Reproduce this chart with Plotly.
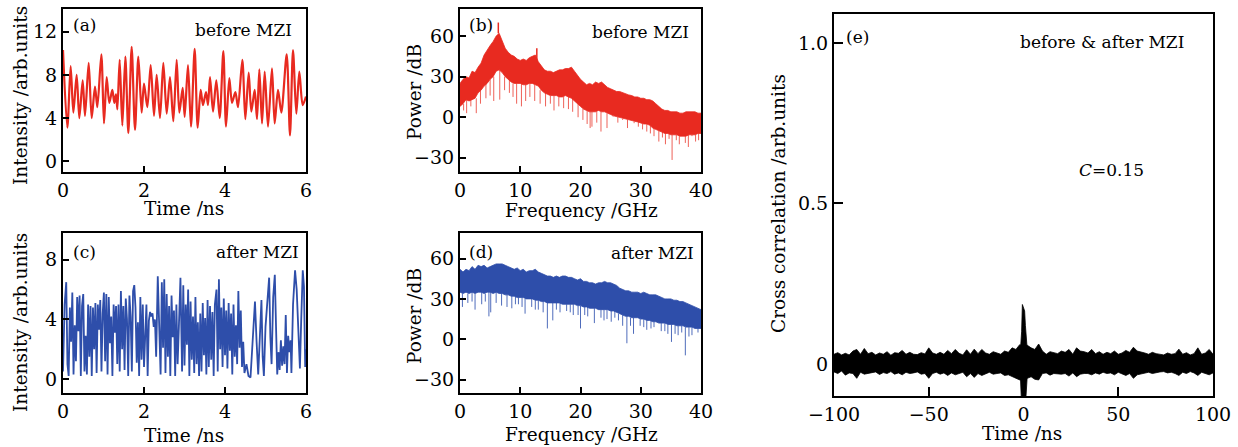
import plotly.graph_objects as go

FONT = "DejaVu Serif"
W, H = 1238, 447

# ---------------- (a) intensity before MZI ----------------
a_time = [0.0, 0.107, 0.189, 0.255, 0.337, 0.403, 0.486, 0.543, 0.634, 0.708, 0.790, 0.848,
          0.947, 1.012, 1.078, 1.144, 1.218, 1.267, 1.309, 1.342, 1.399, 1.465, 1.539, 1.613,
          1.695, 1.778, 1.860, 1.942, 2.000, 2.082, 2.165, 2.247, 2.313, 2.395, 2.477, 2.560,
          2.642, 2.724, 2.807, 2.872, 2.955, 3.004, 3.086, 3.160, 3.251, 3.325, 3.399, 3.457,
          3.531, 3.580, 3.630, 3.704, 3.786, 3.869, 3.959, 4.025, 4.107, 4.173, 4.256, 4.321,
          4.428, 4.502, 4.585, 4.650, 4.733, 4.790, 4.848, 4.914, 4.980, 5.062, 5.160, 5.226,
          5.309, 5.391, 5.523, 5.605, 5.679, 5.761, 5.835, 5.918, 6.0]
a_val = [10.3, 3.1, 8.8, 4.5, 8.0, 4.0, 7.5, 4.2, 9.1, 4.0, 6.9, 5.0,
         9.9, 3.5, 7.8, 5.4, 6.6, 5.4, 6.2, 4.8, 9.4, 3.3, 9.7, 2.6,
         10.6, 2.9, 9.7, 4.5, 7.2, 5.0, 8.9, 4.2, 8.0, 4.0, 9.1, 4.4,
         7.8, 3.7, 9.4, 4.5, 6.8, 4.1, 8.9, 3.2, 10.4, 3.1, 6.6, 5.2,
         6.4, 5.2, 7.8, 4.6, 7.5, 4.0, 10.2, 3.2, 7.7, 5.4, 6.4, 5.0,
         9.4, 3.9, 8.2, 4.6, 6.6, 3.9, 8.5, 3.5, 8.3, 3.2, 8.6, 3.5,
         6.6, 4.5, 9.9, 2.4, 10.3, 4.4, 8.3, 5.2, 6.0]

# ---------------- (c) intensity after MZI ----------------
c_time = [0.00, 0.04, 0.08, 0.11, 0.14, 0.17, 0.20, 0.23, 0.26, 0.29, 0.32, 0.35, 0.38, 0.41,
          0.44, 0.47, 0.50, 0.53, 0.56, 0.59, 0.62, 0.65, 0.68, 0.71, 0.74, 0.77, 0.80, 0.83,
          0.86, 0.89, 0.92, 0.95, 0.98, 1.01, 1.04, 1.07, 1.10, 1.13, 1.16, 1.19, 1.22, 1.25,
          1.28, 1.31, 1.34, 1.37, 1.40, 1.43, 1.46, 1.49, 1.52, 1.55, 1.58, 1.61, 1.64, 1.67,
          1.70, 1.73, 1.76, 1.79, 1.82, 1.85, 1.88, 1.91, 1.94, 1.97, 2.00, 2.03, 2.06, 2.09,
          2.12, 2.15, 2.18, 2.21, 2.24, 2.27, 2.30, 2.34, 2.38, 2.41, 2.44, 2.47, 2.50, 2.53,
          2.56, 2.59, 2.62, 2.65, 2.68, 2.71, 2.74, 2.77, 2.80, 2.83, 2.86, 2.90, 2.94, 2.97,
          3.00, 3.03, 3.06, 3.09, 3.12, 3.15, 3.18, 3.21, 3.24, 3.27, 3.30, 3.33, 3.36, 3.39,
          3.42, 3.45, 3.48, 3.51, 3.54, 3.57, 3.60, 3.63, 3.66, 3.69, 3.72, 3.75, 3.79, 3.82,
          3.85, 3.88, 3.91, 3.94, 3.97, 4.00, 4.03, 4.06, 4.09, 4.12, 4.15, 4.18, 4.21, 4.24,
          4.27, 4.30, 4.33, 4.36, 4.39, 4.42, 4.45, 4.48, 4.53, 4.58, 4.63, 4.67, 4.71, 4.74,
          4.78, 4.82, 4.86, 4.90, 4.93, 4.96, 5.00, 5.04, 5.09, 5.12, 5.15, 5.19, 5.23, 5.26,
          5.29, 5.32, 5.35, 5.38, 5.41, 5.44, 5.47, 5.50, 5.53, 5.56, 5.59, 5.62, 5.64, 5.68,
          5.73, 5.77, 5.81, 5.85, 5.88, 5.92, 5.95, 5.98, 6.00]
c_val = [0.5, 5.0, 6.5, 1.0, 0.2, 4.8, 2.5, 5.8, 0.3, 3.6, 1.2, 5.5, 3.2, 5.6,
         0.2, 4.9, 5.7, 0.5, 2.9, 0.3, 5.0, 1.5, 4.9, 0.2, 4.8, 2.0, 5.1, 0.4,
         5.0, 3.3, 5.3, 0.5, 4.4, 5.8, 1.2, 5.7, 0.3, 5.5, 2.4, 4.2, 0.2, 5.0,
         3.1, 4.9, 1.0, 5.0, 0.5, 5.9, 2.0, 4.9, 0.6, 5.4, 4.0, 0.2, 5.6, 4.2,
         0.5, 5.9, 6.3, 4.8, 1.1, 3.8, 0.2, 5.5, 1.3, 5.0, 0.8, 3.0, 5.0, 0.2,
         3.9, 4.5, 4.2, 4.4, 3.5, 4.0, 1.5, 6.9, 3.8, 0.3, 6.5, 2.1, 6.7, 0.4,
         5.7, 1.5, 4.9, 0.2, 5.6, 2.8, 4.6, 0.2, 5.0, 1.0, 3.4, 6.8, 0.5, 6.3,
         0.9, 5.0, 2.3, 6.0, 0.2, 5.2, 1.3, 4.2, 0.4, 5.5, 1.0, 3.8, 0.2, 4.4,
         0.5, 5.1, 1.6, 4.1, 0.3, 5.3, 0.8, 4.9, 1.3, 4.5, 0.2, 5.0, 6.0, 0.5,
         6.7, 2.0, 4.8, 0.8, 5.4, 1.6, 4.6, 0.7, 5.1, 1.9, 4.4, 0.3, 5.0, 1.5,
         3.6, 1.0, 5.9, 2.1, 4.6, 0.8, 2.5, 0.4, 1.0, 0.2, 0.1, 2.0, 4.0, 5.2,
         2.5, 0.3, 2.8, 5.3, 1.5, 0.2, 3.5, 4.9, 6.8, 2.8, 1.0, 5.5, 7.0, 3.5,
         0.3, 1.8, 0.6, 2.6, 0.9, 2.2, 1.0, 4.3, 0.4, 2.9, 1.8, 2.6, 0.4, 5.0,
         7.3, 6.0, 3.2, 0.7, 3.8, 7.3, 6.2, 0.8, 2.0]

# ---------------- (b) / (d) spectra (0.5 GHz grid) ----------------
freq = [i * 0.5 for i in range(81)]
b_upper = [25, 28, 30, 29, 34, 33, 37, 40, 46, 50, 53, 56, 60, 62, 56, 51, 48, 46, 45, 43,
           42, 43, 42, 44, 45, 46, 41, 38, 35, 34, 34, 33, 34, 35, 35, 36, 36, 37, 34, 31,
           28, 26, 24, 25, 24, 26, 25, 26, 24, 22, 21, 20, 19, 19, 18, 17, 16.5, 16, 15, 15,
           14, 14, 13, 13, 12, 10, 8, 6, 5, 5, 4, 4, 4, 3, 3, 4, 4, 4, 4, 3, 3]
b_lower = [8, 10, 13, 12, 13, 14, 18, 20, 23, 25, 28, 30, 34, 35, 33, 30, 28, 26, 25, 25,
           25, 24, 24, 25, 25, 24, 23, 20, 18, 17, 16, 16, 16, 15, 15, 16, 15, 14, 12, 10,
           8, 6, 5, 4, 4, 4, 5, 4, 4, 3, 2, 1, 0.5, 0, -1, -1.5, -2, -2.5, -3, -3.5,
           -4, -5, -5, -6, -8, -9, -10, -11, -12, -12, -13, -13, -13, -14, -14, -14, -13, -13, -13, -12, -12]
b_dip_f = [0.6, 1.1, 1.8, 2.7, 3.4, 4.3, 5.0, 5.6, 6.6, 7.4, 8.2, 8.8, 9.4, 10.2, 10.9, 11.6,
           12.4, 13.3, 14.2, 15.0, 15.6, 16.4, 17.2, 18.0, 18.7, 19.6, 20.4, 21.1, 21.6, 21.9,
           22.7, 23.4, 24.4, 25.4, 26.2, 27.0, 27.8, 28.9, 29.6, 30.3, 31.0, 31.6, 32.2, 33.0,
           33.6, 34.1, 34.7, 35.2, 35.9, 36.4, 36.8, 37.4, 37.9, 38.5, 39.1, 39.6]
b_dip_v = [5, 3, 8, 3, 10, 14, 16, 12, 13, 20, 18, 15, 10, 8, 12, 15, 12, 10, 8, 10, 5, 8,
           6.7, 6, 4, 0, -2, -5, -8, -7, -4, -10.6, -8, 0.5, -4, -2, -8, -4.4, -7, -9, -10.6,
           -12, -14, -18, -15, -20, -16, -31.6, -17, -20, -14, -19, -22, -14, -18, -17]
b_peak_f = [6.36, 12.75]
b_peak_v = [70, 51]

d_upper = [52, 50, 52, 51, 54, 52, 55, 54, 55, 53, 54, 55, 56, 56, 56, 55, 54, 53, 52, 53,
           51, 52, 50, 51, 51, 52, 50, 49, 48, 47, 47, 46, 47, 46, 47, 47, 46, 46, 45, 44,
           45, 43, 43, 42, 42, 41, 42, 42, 43, 42, 42, 41, 40, 38, 37, 36, 36, 35, 35, 35,
           34, 35, 34, 33, 33, 33, 32, 31, 30, 30, 30, 29, 29, 28, 28, 27, 26, 25, 24, 23, 22]
d_lower = [35, 34, 35, 34, 35, 34, 35, 35, 34, 35, 35, 34, 35, 34, 34, 33, 33, 32, 32, 31,
           31, 31, 30, 30, 30, 29, 29, 28, 28, 27, 27, 27, 27, 27, 26, 26, 26, 26, 26, 25,
           25, 24, 24, 23, 23, 23, 22, 22, 22, 22, 21, 21, 20, 19, 18, 17, 17, 16, 16, 16,
           15, 15, 14, 14, 13, 13, 12, 12, 12, 11, 11, 11, 10, 10, 10, 9, 9, 9, 8, 8, 8]
d_dip_f = [0.4, 1.3, 2.0, 2.5, 3.6, 4.2, 4.8, 5.1, 6.0, 6.9, 7.8, 8.6, 9.2, 9.7, 10.3, 10.8,
           11.9, 12.5, 13.0, 13.8, 14.5, 15.4, 16.0, 16.6, 17.7, 18.3, 18.8, 19.6, 20.0, 20.7,
           21.2, 22.3, 23.4, 23.9, 24.4, 25.1, 25.7, 26.3, 27.0, 27.7, 28.3, 28.8, 29.9, 30.5,
           31.0, 31.7, 32.2, 33.4, 34.0, 34.5, 35.1, 35.7, 36.2, 36.8, 37.4, 38.0, 38.5, 39.5]
d_dip_v = [24, 27, 28, 22, 26, 28, 17, 20, 27, 25, 24, 23, 26, 26, 24, 19, 24, 22, 22, 20, 8,
           14, 22, 20, 21, 20, 18, 18, 8, 18, 17, 12, 16, 14, 15, 13, 16, 14, 10, -3, 10, 4, 10,
           9, 7, 8, 9, 6, 6, 4, -2, 4, 3, 5, -12, 2, 3, 5]

# ---------------- (e) cross correlation (2 ns grid) ----------------
e_time = [-100 + 2 * i for i in range(101)]
e_upper = [0.030, 0.035, 0.028, 0.033, 0.028, 0.040, 0.045, 0.030, 0.048, 0.032,
           0.036, 0.028, 0.034, 0.030, 0.038, 0.027, 0.035, 0.033, 0.042, 0.030,
           0.036, 0.030, 0.029, 0.035, 0.031, 0.050, 0.034, 0.030, 0.036, 0.030,
           0.042, 0.032, 0.045, 0.033, 0.028, 0.044, 0.030, 0.046, 0.032, 0.045,
           0.034, 0.030, 0.038, 0.035, 0.030, 0.040, 0.036, 0.050, 0.045, 0.060,
           0.055,
           0.058, 0.050, 0.045, 0.062, 0.040, 0.030, 0.038, 0.035, 0.032, 0.040,
           0.036, 0.045, 0.030, 0.050, 0.040, 0.038, 0.034, 0.045, 0.032, 0.038,
           0.030, 0.036, 0.032, 0.040, 0.030, 0.034, 0.042, 0.036, 0.052, 0.040,
           0.038, 0.034, 0.030, 0.036, 0.032, 0.030, 0.028, 0.034, 0.030, 0.032,
           0.046, 0.030, 0.035, 0.028, 0.032, 0.050, 0.030, 0.034, 0.045, 0.030]
e_lower = [-0.025, -0.030, -0.022, -0.035, -0.028, -0.030, -0.045, -0.026, -0.032, -0.030,
           -0.028, -0.025, -0.033, -0.027, -0.030, -0.024, -0.032, -0.028, -0.034, -0.026,
           -0.030, -0.028, -0.025, -0.032, -0.030, -0.045, -0.030, -0.026, -0.032, -0.028,
           -0.036, -0.028, -0.034, -0.030, -0.026, -0.040, -0.030, -0.042, -0.030, -0.036,
           -0.030, -0.026, -0.032, -0.030, -0.028, -0.036, -0.034, -0.040, -0.045, -0.050,
           -0.050,
           -0.045, -0.040, -0.048, -0.050, -0.030, -0.028, -0.035, -0.030, -0.030, -0.032,
           -0.030, -0.038, -0.028, -0.040, -0.032, -0.030, -0.030, -0.034, -0.028, -0.032,
           -0.026, -0.030, -0.028, -0.034, -0.026, -0.030, -0.036, -0.030, -0.045, -0.034,
           -0.030, -0.028, -0.026, -0.030, -0.028, -0.025, -0.024, -0.028, -0.026, -0.030,
           -0.036, -0.026, -0.030, -0.024, -0.028, -0.036, -0.026, -0.030, -0.034, -0.028]
e_peak_t = [-1.6, -1.0, -0.6, -0.2, 0.2, 0.6, 1.0, 1.4, 1.9]
e_peak_hi = [0.045, 0.10, 0.185, 0.178, 0.172, 0.165, 0.12, 0.07, 0.05]
e_peak_lo = [-0.045, -0.13, -0.13, -0.13, -0.13, -0.13, -0.13, -0.13, -0.045]

RED = "rgb(232,42,32)"
BLUE = "rgb(46,78,170)"

fig = go.Figure()


def band(x, hi, lo, color, xa, ya, opacity=1.0):
    fig.add_trace(go.Scatter(x=list(x) + list(x)[::-1], y=list(hi) + list(lo)[::-1],
                             fill="toself", fillcolor=color, mode="lines",
                             line=dict(color=color, width=0.8), opacity=opacity,
                             xaxis=xa, yaxis=ya, hoverinfo="skip"))


def spikes(fs, vs, base_arr, color, xa, ya, width=1.0):
    xs, ys = [], []
    for f, v in zip(fs, vs):
        b = base_arr[min(80, int(round(f * 2)))]
        xs += [f, f, None]
        ys += [b, v, None]
    fig.add_trace(go.Scatter(x=xs, y=ys, mode="lines", line=dict(color=color, width=width),
                             xaxis=xa, yaxis=ya, hoverinfo="skip"))


# (a)
fig.add_trace(go.Scatter(x=a_time, y=a_val, mode="lines",
                         line=dict(color=RED, width=2.2, shape="spline", smoothing=0.8),
                         xaxis="x", yaxis="y"))
# (c)
fig.add_trace(go.Scatter(x=c_time, y=c_val, mode="lines", line=dict(color=BLUE, width=1.8),
                         xaxis="x2", yaxis="y2"))
# (b)
spikes(b_dip_f, b_dip_v, b_lower, "rgba(236,80,70,0.9)", "x3", "y3", 1.0)
band(freq, b_upper, b_lower, RED, "x3", "y3")
spikes(b_peak_f, b_peak_v, b_upper, RED, "x3", "y3", 1.5)
# (d)
spikes(d_dip_f, d_dip_v, d_lower, "rgba(60,92,180,0.9)", "x4", "y4", 1.0)
band(freq, d_upper, d_lower, BLUE, "x4", "y4")
# (e)
band(e_time, e_upper, e_lower, "black", "x5", "y5")
band(e_peak_t, e_peak_hi, e_peak_lo, "black", "x5", "y5")


def px_x(p):
    return p / W


def px_y(p):
    return 1 - p / H


def ax(domain, rng, tickvals, ticktext=None, ticklen=6):
    d = dict(domain=domain, range=rng, tickvals=tickvals, showline=True, linecolor="black",
             linewidth=2, mirror=True, ticks="inside", ticklen=ticklen, tickwidth=2,
             tickcolor="black", showgrid=False, zeroline=False, fixedrange=True,
             automargin=False,
             tickfont=dict(family=FONT, size=19, color="black"))
    if ticktext is not None:
        d["ticktext"] = ticktext
    return d


xa_dom = [px_x(63), px_x(306)]
xb_dom = [px_x(460), px_x(701)]
xe_dom = [px_x(834), px_x(1213)]
y_top = [px_y(172), px_y(9)]
y_bot = [px_y(393), px_y(233)]
y_e = [px_y(396), px_y(14)]

fig.update_layout(
    width=W, height=H, margin=dict(l=0, r=0, t=0, b=0, autoexpand=False),
    plot_bgcolor="white", paper_bgcolor="white", showlegend=False,
    font=dict(family=FONT, size=17, color="black"),
    xaxis=dict(ax(xa_dom, [0, 6], [0, 2, 4, 6]), anchor="y"),
    yaxis=dict(ax(y_top, [-1.0, 14.1], [0, 4, 8, 12]), anchor="x"),
    xaxis2=dict(ax(xa_dom, [0, 6], [0, 2, 4, 6]), anchor="y2"),
    yaxis2=dict(ax(y_bot, [-0.94, 9.8], [0, 4, 8]), anchor="x2"),
    xaxis3=dict(ax(xb_dom, [0, 40], [0, 10, 20, 30, 40]), anchor="y3"),
    yaxis3=dict(ax(y_top, [-40.5, 80], [-30, 0, 30, 60], ["\u221230", "0", "30", "60"]), anchor="x3"),
    xaxis4=dict(ax(xb_dom, [0, 40], [0, 10, 20, 30, 40]), anchor="y4"),
    yaxis4=dict(ax(y_bot, [-40, 79], [-30, 0, 30, 60], ["\u221230", "0", "30", "60"]), anchor="x4"),
    xaxis5=dict(ax(xe_dom, [-100, 100], [-100, -50, 0, 50, 100],
                   ["\u2212100", "\u221250", "0", "50", "100"], ticklen=9), anchor="y5"),
    yaxis5=dict(ax(y_e, [-0.1, 1.09], [0, 0.5, 1.0], ["0", "0.5", "1.0"], ticklen=9), anchor="x5"),
)

ann = []


def text(s, x, y, xanchor="center", angle=0, size=17):
    ann.append(dict(text=s, x=px_x(x), y=px_y(y), xref="paper", yref="paper",
                    xanchor=xanchor, yanchor="middle", showarrow=False, textangle=angle,
                    font=dict(family=FONT, size=size, color="black")))


TS = 18.5
# axis titles
text("Intensity /arb.units", 20, 96, angle=-90, size=TS)
text("Time /ns", 184, 209, size=TS)
text("Intensity /arb.units", 20, 323, angle=-90, size=TS)
text("Time /ns", 184, 435, size=TS)
text("Power /dB", 414, 92, angle=-90, size=TS)
text("Frequency /GHz", 581, 210, size=TS)
text("Power /dB", 414, 316, angle=-90, size=TS)
text("Frequency /GHz", 581, 434, size=TS)
text("Cross correlation /arb.units", 778, 204, angle=-90, size=TS)
text("Time /ns", 1022, 433, size=TS)
# panel labels
text("(a)", 71, 25, xanchor="left")
text("before MZI", 294, 30, xanchor="right")
text("(c)", 71, 252, xanchor="left")
text("after MZI", 301, 252, xanchor="right")
text("(b)", 467, 25, xanchor="left")
text("before MZI", 691, 32, xanchor="right")
text("(d)", 467, 252, xanchor="left")
text("after MZI", 696, 253, xanchor="right")
text("(e)", 844, 37, xanchor="left")
text("before &amp; after MZI", 1186, 42, xanchor="right")
text("<i>C</i>=0.15", 1077, 170, xanchor="left")

fig.update_layout(annotations=ann)
fig.write_html("out.html", config={"displayModeBar": False},
               post_script="document.body.style.margin='0px';document.body.style.overflow='hidden';")
